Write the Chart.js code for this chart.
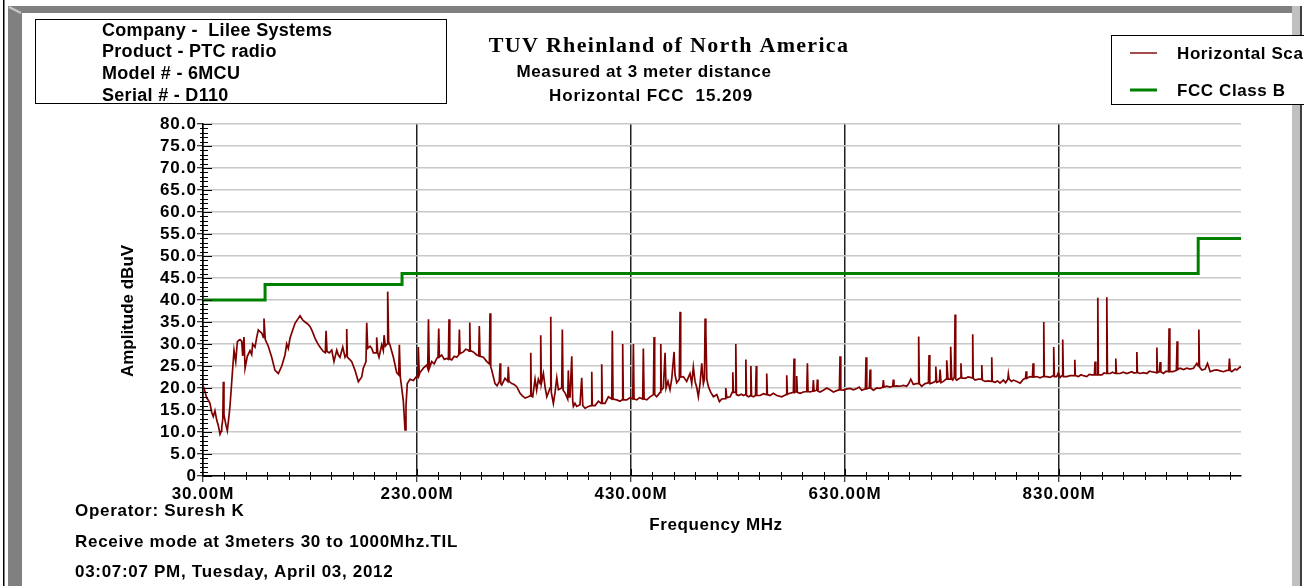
<!DOCTYPE html>
<html>
<head>
<meta charset="utf-8">
<title>TUV Rheinland - Horizontal FCC 15.209</title>
<script src="https://cdn.jsdelivr.net/npm/chart.js@4.4.1/dist/chart.umd.min.js"></script>
<style>
    html, body { margin: 0; padding: 0; background: #fff; }
    canvas { display: block; }
</style>
</head>
<body>
<canvas id="scan-chart" width="1304" height="586"></canvas>
<script>
// header / footer text
const infoLines = ['Company -  Lilee Systems', 'Product - PTC radio', 'Model # - 6MCU', 'Serial # - D110'];
const titleText = 'TUV Rheinland of North America';
const subtitleLines = ['Measured at 3 meter distance', 'Horizontal FCC  15.209'];
const footerLines = ['Operator: Suresh K', 'Receive mode at 3meters 30 to 1000Mhz.TIL', '03:07:07 PM, Tuesday, April 03, 2012'];
const xAxisTitle = 'Frequency MHz';
const yAxisTitle = 'Amplitude dBuV';
const seriesNames = ['Horizontal Scan', 'FCC Class B'];

// axis ticks (MHz / dBuV)
const xTickValues = [30, 230, 430, 630, 830];
const yTickValues = [0, 5, 10, 15, 20, 25, 30, 35, 40, 45, 50, 55, 60, 65, 70, 75, 80];

// FCC Class B limit, stepped (value holds until next frequency)
const fccFreq = [30, 88, 216, 960, 1000];
const fccLimit = [40, 43.5, 46, 54, 54];

// horizontal scan, [MHz, dBuV]
const scanLow = [
    [30.0,20.6],[31.5,19.5],[33.5,17.7],[35.0,17.2],[36.5,16.5],[38.1,14.5],[39.6,13.5],[41.2,14.8],[42.8,12.7],[44.3,11.5],
    [45.9,9.5],[47.0,10.2],[47.5,11],[48.5,13],[49.0,21.4],[49.6,14],[50.3,13],[51.5,11.5],[52.7,10.3],[54.0,13],
    [55.2,15.8],[57.4,23.3],[59.0,28.6],[60.6,26],[62.1,30.5],[63.3,30.8],[64.6,31],[66.2,30.6],[67.1,27.3],[68.3,31.6],
    [69.3,24.5],[71.4,27.2],[73.9,28.5],[75.5,27.6],[76.4,30],[78.6,29.3],[80.2,31.5],[81.7,33.2],[83.3,32.8],[84.9,32.5],
    [86.4,31.5],[87.0,35.8],[88.2,31],[91.0,29.5],[94.2,27],[97.3,24],[100.4,23.3],[103.6,25],[106.6,27.5],[108.2,30],
    [109.7,29.0],[111.3,31.3],[113.6,33],[116.0,34.7],[118.4,35.6],[120.7,36.4],[123.0,35.5],[125.3,35],[127.6,34.6],[130.0,34],
    [132.3,32.8],[134.7,31.3],[137.0,30.2],[139.3,29.3],[142.4,28.3],[144.3,28],[145.0,33],[145.9,28.3],[148.0,28],[150.3,28.6],
    [152.4,26],[155.0,28.6],[156.5,27.5],[158.0,27],[160.6,29.3],[162.7,27],[163.7,27.5],[164.3,33.4],[164.9,27],[167.0,26.5],
    [169.0,26],[172.1,24],[175.2,21.4],[178.3,22.5],[179.8,24.5],[182.3,26],[183.0,34.8],[183.9,29],[186.1,29.5],[187.7,29],
    [189.2,28],[191.7,28],[192.3,31.5],[193.3,28],[194.5,27],[197.0,29.8],[198.5,28.5],[199.2,32],[200.4,29.5],[202.0,30],
    [202.6,41.9],[203.5,30.5],[204.8,29.7],[207.9,27],[211.0,23.5],[212.9,23],[213.5,29.8],[214.4,22.5],[215.7,20],[217.2,17],
    [218.8,10.5],[219.7,16],[220.9,21],[223.5,22],[226.6,21.7],[229.7,22.7],[230.7,22.5],[231.2,29.3],[232.1,23],[232.8,23.5],
    [235.9,24.5],[239.1,25.2],[240.0,24.5],[240.7,35.6],[241.5,24.5]
];
const scanMid = [
    [243.7,26],[246.0,25.5],[248.4,26.7],[249.6,27],[250.3,33.5],[250.9,27],[253.1,27.5],[255.5,26.5],[257.8,26.7],[259.3,26.5],
    [259.9,35.6],[260.6,26.6],[262.4,26.4],[264.8,27.2],[267.1,27],[269.0,27.5],[269.6,33.3],[270.2,27.8],[273.3,28.2],[275.6,28.8],
    [278.0,28.6],[278.6,28.4],[279.3,34.9],[279.8,28.5],[282.6,28.2],[285.8,27.5],[287.7,27.3],[288.2,34.1],[288.9,27.2],[292.0,27],
    [295.2,26],[297.6,25.5],[298.2,37],[298.9,24.8],[299.8,24.1],[302.9,21],[304.8,20.5],[306.9,21.5],[307.6,25.6],[308.2,21],
    [309.2,20.7],[312.2,22.2],[314.8,21.5],[315.3,24.8],[316.0,21.5],[318.5,21],[320.8,20.8],[323.2,20.3],[326.3,18.8],[328.5,18.2],
    [331.0,17.7],[334.0,18],[335.6,18.2],[336.3,28],[336.8,18.2],[338.1,18],[340.3,22],[341.8,19.5],[343.4,22],[345.0,21],
    [345.6,32],[346.2,21],[348.1,23.3],[349.8,20],[351.3,18],[354.3,20],[355.0,36.2],[355.5,19],[357.4,16.5],[359.0,19],
    [360.6,22.3],[362.1,19.6],[365.2,20],[365.8,33.3],[366.5,19.5],[368.3,18.9],[370.8,17.5],[371.4,24],[372.2,18],[373.0,18],
    [374.6,27.2],[375.5,17],[376.1,15.8],[377.6,16.5],[379.2,15.8],[382.3,16.2],[383.9,22.3],[384.9,16],[387.0,15.4],[390.1,15.8],
    [392.6,16],[393.3,23.7],[393.8,16],[396.4,16],[399.5,17],[402.0,16.5],[402.6,25.4],[403.2,16.5],[405.7,16.5],[408.8,18],
    [412.0,17.5],[412.5,33],[413.2,17.5],[416.7,17.3],[419.7,17],[421.6,17.3],[422.2,30],[422.8,17.3],[426.0,17.3],[429.0,17.8],
    [431.6,17.5],[432.2,30],[432.8,17.5],[435.3,17.3],[438.0,17.8],[440.9,17.5],[441.5,29],[442.2,17.5],[444.7,17.3],[447.8,18],
    [450.9,18.5],[451.5,31.6],[452.1,18.5],[454.0,18],[457.1,19],[457.8,30],[458.3,19.5],[460.2,20],[461.8,28],[462.7,20],
    [464.5,21.5],[466.4,19.6],[468.0,22],[470.2,28.2],[471.1,23],[472.7,21.2],[475.1,22],[475.8,37.3],[476.4,22.5],[478.9,22.6],
    [482.0,21.5],[485.1,23.3],[486.7,21],[488.2,24.8],[489.8,21.5],[491.5,20],[492.9,18],[494.5,21],[496.1,25.6],[497.6,21],
    [498.6,22],[499.2,35.8],[499.9,33],[500.8,22],[502.3,20.3],[504.5,19],[507.0,18],[510.1,18.5],[512.6,16.9]
];
const scanUpper = [
    [514.8,17.5],[517.9,17.6],[518.5,20],[519.5,17.8],[522.6,18],[524.5,19],[525.1,23.6],[525.7,19],[527.3,19],[527.9,30],
    [528.5,18.5],[530.4,18.3],[533.0,18.6],[535.1,18.3],[536.7,18.5],[537.3,26.5],[537.9,18.3],[539.8,18],[541.3,18.2],[542.0,25],
    [542.6,18.2],[544.4,18],[546.3,18.3],[547.0,25],[547.5,18.3],[550.6,18.3],[553.7,18.7],[556.2,18.5],[556.8,23.3],[557.4,18.5],
    [560.0,18.3],[563.0,18.8],[566.2,18.3],[570.9,18],[574.9,18.5],[575.5,22.9],[576.1,18.6],[578.6,18.8],[581.7,19],[582.3,26.7],
    [583.0,19],[584.2,19.2],[584.8,22.7],[585.4,19],[588.0,18.8],[591.0,19.1],[594.2,19.2],[594.8,25.6],[595.4,19.2],[597.3,19.1],
    [599.8,19.3],[600.4,21.8],[601.0,19.3],[603.6,19.5],[604.1,21.9],[604.7,19.3],[606.6,19.1],[609.7,19.5],[612.8,20],[615.9,19.6],
    [619.1,19.1],[622.2,19.4],[624.7,19.6],[625.3,27.2],[626.0,19.6],[628.4,19.5],[631.6,19.8],[634.7,19.9],[637.8,19.6],[640.9,19.9],
    [643.2,20.2],[645.6,19.5],[649.0,19.8],[649.6,27],[650.3,19.8],[652.7,20],[653.4,24.2],[654.0,20],[656.5,19.5],[659.6,20],
    [662.7,19.9],[665.2,20.2],[665.8,21.8],[666.4,20.2],[668.9,20.4],[672.0,20.2],[674.5,20.4],[675.1,21.9],[675.7,20.4],[678.3,20.5],
    [681.4,20.4],[684.5,20.6],[687.6,20.4],[689.5,21],[691.4,22],[693.8,20.8],[696.3,21],[698.2,21],[698.8,31.7],[699.4,21],
    [701.6,20.4],[704.8,21],[707.9,21.2],[708.5,27.5],[709.2,21],[711.0,21.1],[714.1,21.5],[714.8,24.9],[715.7,21.3],[718.2,21.5],
    [718.8,24.2],[719.7,21.2],[721.9,21.5],[724.4,22],[725.0,26.3],[726.2,22],[728.1,22],[728.7,29.4],[729.7,22],[730.6,21.8],
    [732.1,22.5],[732.8,36.7],[733.4,22],[734.3,21.8],[737.7,22.3],[738.3,25.6],[738.9,22.3],[742.2,22.2],[745.1,22.5],[748.7,22.3],
    [749.3,32.2],[749.8,22.2],[751.5,21.8],[754.6,22],[757.1,22],[757.8,25.2],[758.3,21.8],[760.8,21.5],[763.9,21.6],[766.4,21.5],
    [767.1,27],[767.6,21.5],[770.1,21.3],[772.5,21.6],[774.8,21.1]
];
const scanTop = [
    [778.0,21.8],[780.0,21.2],[782.1,22],[782.6,23.2],[783.3,22],[785.5,21.5],[787.3,21.8],[790.5,21.5],[793.6,21.1],[796.7,22],
    [798.6,22.2],[799.2,23.8],[799.8,22.2],[802.9,22.6],[805.1,22.5],[805.7,25.6],[806.4,22.5],[809.1,22.6],[812.2,22.3],[815.0,22.6],
    [815.7,35],[816.2,22.6],[818.5,22.6],[821.6,22.4],[824.4,22.8],[825.0,29.3],[825.6,22.6],[827.8,22.6],[829.3,23.5],[830.9,22.4],
    [832.8,22.8],[833.4,31],[834.0,22.6],[837.2,22.6],[840.3,22.8],[844.0,22.8],[844.7,26.4],[845.2,22.8],[848.1,22.6],[850.5,23],
    [852.7,22.8],[855.9,22.6],[858.2,23.1],[860.6,23],[863.0,23],[863.6,26],[864.3,23],[865.5,23],[866.2,40.5],[866.7,23],
    [869.9,23],[872.0,23.4],[873.9,23.3],[874.6,40.6],[875.2,23.3],[877.7,23.3],[880.0,23.6],[882.4,23.3],[883.0,26.7],[883.6,23.3],
    [887.0,23.3],[890.0,23.6],[893.3,23.3],[895.6,23.5],[898.0,23.7],[900.0,23.4],[902.0,23.5],[902.7,28.2],[903.2,23.5],[905.7,23.3],
    [908.9,23.5],[912.0,23.3],[914.4,23.8],[916.7,23.7],[920.7,23.5],[921.4,29.2],[921.9,23.5],[923.8,23.7],[924.4,25.9],[925.1,23.7],
    [927.5,23.3],[930.0,23.8],[932.2,23.7],[932.8,33.6],[933.5,23.7],[936.3,23.7],[939.6,24],[940.3,30.6],[940.9,24.2],[943.1,24.5],
    [946.2,24.2],[949.4,24.5],[952.4,24.3],[955.6,24.5],[958.7,25.6],[960.0,25],[960.6,33.3],[961.2,24.8],[963.4,24.1],[966.5,24.3],
    [968.7,25.6],[971.2,23.7],[974.3,24],[977.4,24.1],[980.5,23.9],[983.6,23.7],[986.8,24],[988.6,24],[989.2,26.7],[989.9,24],
    [991.4,23.7],[994.5,24.3],[996.1,24.1],[999.2,24.8],[1000.0,24.6]
];

const SANS = '"Liberation Sans", Arial, sans-serif';
const SERIF = '"Liberation Serif", "Times New Roman", serif';
const SCAN_COLOR = '#800000';
const LIMIT_COLOR = '#008000';

function drawText(ctx, str, x, y, font, align, spacing) {
    ctx.font = font;
    ctx.textAlign = align || 'left';
    ctx.textBaseline = 'middle';
    ctx.letterSpacing = spacing || '0px';
    ctx.fillStyle = '#000';
    ctx.fillText(str, x, y);
}

// window-style frame, info box, titles, legend, extra tick marks
const sheetPlugin = {
    id: 'sheet',
    beforeDraw(chart) {
        const ctx = chart.ctx;
        ctx.save();
        ctx.fillStyle = '#fff';
        ctx.fillRect(0, 0, chart.width, chart.height);

        // frame
        ctx.fillStyle = '#000';
        ctx.fillRect(3, 0, 1.5, 586);
        ctx.fillStyle = '#808080';
        ctx.fillRect(8, 6, 14, 580);
        ctx.fillRect(8, 6, 1284, 7);
        ctx.fillStyle = '#c0c0c0';
        ctx.fillRect(1292, 6, 8, 580);
        ctx.fillStyle = '#404040';
        ctx.fillRect(1300, 6, 2, 580);
        ctx.strokeStyle = '#c8c8c8';
        ctx.lineWidth = 2;
        ctx.beginPath();
        ctx.moveTo(9, 7);
        ctx.lineTo(21, 13);
        ctx.stroke();
        ctx.restore();

        // tick labels get the same loose spacing as the original
        ctx.letterSpacing = '1px';
    },
    afterDraw(chart) {
        const ctx = chart.ctx;
        const x = chart.scales.x, y = chart.scales.y;
        const area = chart.chartArea;
        ctx.save();

        // extra y ticks: minor every 1 dB, majors poke into the plot
        ctx.strokeStyle = '#000';
        ctx.lineWidth = 1;
        ctx.beginPath();
        for (let v = 0; v <= 80; v++) {
            const py = Math.round(y.getPixelForValue(v)) + 0.5;
            if (v % 5 === 0) {
                ctx.moveTo(area.left, py);
                ctx.lineTo(area.left + 9, py);
            } else {
                ctx.moveTo(area.left - 3, py);
                ctx.lineTo(area.left + 5, py);
            }
        }
        // minor x ticks every 20 MHz
        for (let f = 50; f < 1000; f += 20) {
            const px = Math.round(x.getPixelForValue(f)) + 0.5;
            if ((f - 30) % 200 === 0) {
                ctx.moveTo(px, area.bottom);
                ctx.lineTo(px, area.bottom - 7);
            } else {
                ctx.moveTo(px, area.bottom - 4);
                ctx.lineTo(px, area.bottom + 4);
            }
        }
        ctx.stroke();

        // info box
        ctx.save();
        ctx.beginPath();
        ctx.rect(35.5, 19.5, 411, 84);
        ctx.clip();
        const infoY = [31, 52, 74, 96];
        infoLines.forEach((s, i) => drawText(ctx, s, 102, infoY[i], 'bold 18px ' + SANS, 'left', '0.3px'));
        ctx.restore();
        ctx.strokeStyle = '#000';
        ctx.lineWidth = 1;
        ctx.strokeRect(35.5, 19.5, 411, 84);

        // titles
        drawText(ctx, titleText, 669, 46, 'bold 22px ' + SERIF, 'center', '1.3px');
        drawText(ctx, subtitleLines[0], 644, 72, 'bold 17px ' + SANS, 'center', '0.6px');
        drawText(ctx, subtitleLines[1], 651, 96, 'bold 17px ' + SANS, 'center', '0.9px');

        // axis titles
        drawText(ctx, xAxisTitle, 716, 525, 'bold 17px ' + SANS, 'center', '0.6px');
        ctx.save();
        ctx.translate(128, 311);
        ctx.rotate(-Math.PI / 2);
        drawText(ctx, yAxisTitle, 0, 0, 'bold 17px ' + SANS, 'center', '0px');
        ctx.restore();

        // footer
        const footY = [511, 542, 572];
        footerLines.forEach((s, i) => drawText(ctx, s, 75, footY[i], 'bold 17px ' + SANS, 'left', '0.7px'));

        // legend, runs off the right edge like the original
        ctx.fillStyle = '#fff';
        ctx.fillRect(1111.5, 35.5, 200, 69);
        ctx.strokeStyle = '#000';
        ctx.lineWidth = 1;
        ctx.strokeRect(1111.5, 35.5, 200, 69);
        const legY = [53, 90];
        chart.data.datasets.forEach((ds, i) => {
            ctx.strokeStyle = ds.borderColor;
            ctx.lineWidth = i === 0 ? 1.4 : 3;
            ctx.beginPath();
            ctx.moveTo(1130, legY[i]);
            ctx.lineTo(1157, legY[i]);
            ctx.stroke();
            drawText(ctx, ds.label, 1177, legY[i] + 1, 'bold 17px ' + SANS, 'left', '0.6px');
        });

        ctx.restore();
    }
};

document.addEventListener('DOMContentLoaded', function () {
    var ctx = document.getElementById('scan-chart').getContext('2d');
    const scanPoints = scanLow.concat(scanMid, scanUpper, scanTop);
    const limitPoints = fccFreq.map((f, i) => ({ x: f, y: fccLimit[i] }));

    new Chart(ctx, {
        type: 'line',
        data: {
            datasets: [{
                label: seriesNames[0],
                data: scanPoints,
                borderColor: SCAN_COLOR,
                borderWidth: 1.7,
                pointRadius: 0,
                fill: false,
                tension: 0
            }, {
                label: seriesNames[1],
                data: limitPoints,
                borderColor: LIMIT_COLOR,
                borderWidth: 3,
                pointRadius: 0,
                fill: false,
                stepped: true
            }]
        },
        options: {
            responsive: false,
            animation: false,
            devicePixelRatio: 1,
            events: [],
            layout: { padding: { top: 124, right: 63, bottom: 0, left: 0 } },
            plugins: {
                legend: { display: false },
                tooltip: { enabled: false }
            },
            scales: {
                x: {
                    type: 'linear',
                    min: 30,
                    max: 1000,
                    afterBuildTicks: scale => { scale.ticks = xTickValues.map(v => ({ value: v })); },
                    afterFit: scale => { scale.height = 110; },
                    ticks: {
                        callback: v => v.toFixed(2) + 'M',
                        color: '#000',
                        font: { family: SANS, size: 17, weight: 'bold' },
                        padding: 2,
                        maxRotation: 0,
                        autoSkip: false
                    },
                    grid: { color: '#202020', lineWidth: 1.5, tickColor: '#000', tickLength: 6, tickWidth: 1 },
                    border: { color: '#000', width: 1.5 }
                },
                y: {
                    min: 0,
                    max: 80,
                    afterBuildTicks: scale => { scale.ticks = yTickValues.map(v => ({ value: v })); },
                    afterFit: scale => { scale.width = 203; },
                    ticks: {
                        callback: v => v === 0 ? '0' : v.toFixed(1),
                        color: '#000',
                        font: { family: SANS, size: 17, weight: 'bold' },
                        padding: 0,
                        autoSkip: false
                    },
                    grid: { color: '#c8c8c8', lineWidth: 1.5, tickColor: '#000', tickLength: 6, tickWidth: 1 },
                    border: { color: '#000', width: 1.5 }
                }
            }
        },
        plugins: [sheetPlugin]
    });
});
</script>
</body>
</html>
